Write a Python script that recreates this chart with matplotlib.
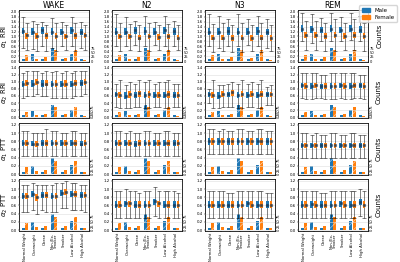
import matplotlib
matplotlib.use('Agg')
import matplotlib.pyplot as plt
from matplotlib.patches import Patch
import numpy as np

categories = ['Normal Weight', 'Overweight', 'Obese', 'Non-/Ex-\nSmoker',
              'Smoker', 'Low Alcohol', 'High Alcohol']
stages = ['WAKE', 'N2', 'N3', 'REM']
row_labels = [r'$\alpha_1$ RRI', r'$\alpha_2$ RRI', r'$\alpha_1$ PTT', r'$\alpha_2$ PTT']

# counts per category (male / female) and which bar is hatched
counts_m = [12, 40, 12, 80, 12, 45, 12]
counts_f = [35, 15, 22, 65, 18, 68, 8]
hatch_m = [False, True, False, True, False, True, False]
hatch_f = [True, False, False, True, False, True, False]

# (low whisker, q1, median, q3, high whisker) per category
# row 1: alpha1 RRI
rri1_wake_m = [(0.55, 1.10, 1.22, 1.35, 1.80), (0.50, 1.05, 1.20, 1.35, 1.65), (0.60, 1.10, 1.25, 1.40, 1.60),
               (0.55, 1.05, 1.20, 1.35, 1.75), (0.60, 1.05, 1.18, 1.30, 1.60), (0.60, 1.10, 1.25, 1.40, 1.80),
               (0.55, 1.05, 1.20, 1.30, 1.60)]
rri1_wake_f = [(0.45, 0.90, 1.05, 1.15, 1.55), (0.40, 0.90, 1.02, 1.15, 1.50), (0.40, 0.90, 1.05, 1.15, 1.45),
               (0.40, 0.90, 1.02, 1.15, 1.55), (0.45, 0.88, 1.00, 1.12, 1.45), (0.40, 0.90, 1.05, 1.15, 1.55),
               (0.45, 0.92, 1.05, 1.15, 1.45)]
rri1_n2_m = [(0.60, 1.08, 1.20, 1.35, 1.90), (0.60, 1.05, 1.20, 1.35, 1.80), (0.65, 1.10, 1.25, 1.40, 1.65),
             (0.60, 1.08, 1.22, 1.38, 1.85), (0.65, 1.05, 1.20, 1.35, 1.60), (0.60, 1.10, 1.25, 1.40, 1.85),
             (0.60, 1.05, 1.22, 1.35, 1.65)]
rri1_n2_f = [(0.40, 0.88, 1.00, 1.12, 1.55), (0.45, 0.88, 1.00, 1.12, 1.50), (0.40, 0.85, 0.95, 1.08, 1.45),
             (0.40, 0.88, 1.00, 1.12, 1.55), (0.45, 0.85, 0.98, 1.10, 1.45), (0.40, 0.88, 1.00, 1.12, 1.50),
             (0.45, 0.85, 0.95, 1.08, 1.45)]
rri1_n3_m = [(0.60, 1.05, 1.20, 1.35, 1.90), (0.55, 1.05, 1.18, 1.35, 1.85), (0.60, 1.08, 1.22, 1.38, 1.70),
             (0.60, 1.05, 1.20, 1.35, 1.90), (0.65, 1.05, 1.20, 1.35, 1.70), (0.60, 1.05, 1.22, 1.38, 1.85),
             (0.55, 1.05, 1.18, 1.32, 1.70)]
rri1_n3_f = [(0.35, 0.85, 0.95, 1.08, 1.50), (0.40, 0.85, 0.95, 1.08, 1.55), (0.35, 0.82, 0.92, 1.05, 1.45),
             (0.35, 0.85, 0.95, 1.08, 1.55), (0.40, 0.82, 0.95, 1.05, 1.45), (0.35, 0.85, 0.95, 1.08, 1.55),
             (0.40, 0.82, 0.92, 1.05, 1.45)]
rri1_rem_m = [(0.80, 1.20, 1.32, 1.45, 1.95), (0.75, 1.15, 1.30, 1.42, 1.90), (0.80, 1.15, 1.28, 1.40, 1.75),
              (0.80, 1.18, 1.32, 1.45, 1.95), (0.80, 1.15, 1.28, 1.40, 1.80), (0.85, 1.20, 1.32, 1.45, 1.95),
              (0.80, 1.15, 1.28, 1.42, 1.85)]
rri1_rem_f = [(0.45, 0.92, 1.05, 1.18, 1.65), (0.45, 0.92, 1.05, 1.20, 1.65), (0.40, 0.90, 1.02, 1.15, 1.55),
              (0.40, 0.92, 1.05, 1.18, 1.70), (0.45, 0.90, 1.02, 1.15, 1.55), (0.45, 0.95, 1.08, 1.20, 1.70),
              (0.40, 0.90, 1.02, 1.15, 1.55)]
# row 2: alpha2 RRI
rri2_wake_m = [(0.55, 0.85, 0.95, 1.02, 1.25), (0.60, 0.85, 0.95, 1.05, 1.30), (0.60, 0.85, 0.95, 1.05, 1.25),
               (0.55, 0.85, 0.95, 1.03, 1.28), (0.55, 0.85, 0.93, 1.02, 1.25), (0.55, 0.85, 0.93, 1.02, 1.25),
               (0.60, 0.88, 0.97, 1.05, 1.30)]
rri2_wake_f = [(0.60, 0.88, 0.97, 1.05, 1.30), (0.65, 0.90, 1.00, 1.08, 1.30), (0.60, 0.88, 0.95, 1.05, 1.30),
               (0.55, 0.85, 0.95, 1.05, 1.30), (0.55, 0.85, 0.95, 1.05, 1.30), (0.60, 0.88, 0.97, 1.05, 1.30),
               (0.65, 0.90, 1.00, 1.08, 1.30)]
rri2_n2_m = [(0.30, 0.58, 0.65, 0.72, 0.95), (0.25, 0.52, 0.60, 0.70, 0.90), (0.30, 0.55, 0.62, 0.70, 0.95),
             (0.25, 0.55, 0.63, 0.72, 1.00), (0.30, 0.55, 0.63, 0.72, 0.95), (0.25, 0.55, 0.63, 0.72, 1.00),
             (0.30, 0.55, 0.63, 0.72, 0.95)]
rri2_n2_f = [(0.25, 0.55, 0.63, 0.72, 1.05), (0.25, 0.55, 0.65, 0.75, 1.00), (0.30, 0.58, 0.68, 0.75, 1.05),
             (0.25, 0.55, 0.65, 0.75, 1.05), (0.30, 0.55, 0.63, 0.72, 1.00), (0.25, 0.55, 0.65, 0.75, 1.05),
             (0.30, 0.55, 0.63, 0.72, 0.95)]
rri2_n3_m = [(0.40, 0.58, 0.65, 0.72, 0.80), (0.25, 0.52, 0.60, 0.70, 0.90), (0.30, 0.58, 0.65, 0.72, 0.95),
             (0.25, 0.55, 0.63, 0.72, 0.95), (0.30, 0.55, 0.63, 0.72, 0.95), (0.25, 0.55, 0.63, 0.72, 0.95),
             (0.35, 0.58, 0.65, 0.72, 0.85)]
rri2_n3_f = [(0.25, 0.55, 0.63, 0.72, 1.05), (0.30, 0.58, 0.65, 0.75, 0.90), (0.30, 0.60, 0.70, 0.78, 1.00),
             (0.25, 0.58, 0.65, 0.75, 1.05), (0.30, 0.58, 0.65, 0.75, 1.00), (0.25, 0.58, 0.65, 0.75, 1.05),
             (0.35, 0.58, 0.65, 0.72, 0.90)]
rri2_rem_m = [(0.55, 0.82, 0.90, 0.98, 1.25), (0.50, 0.80, 0.88, 0.97, 1.25), (0.55, 0.80, 0.88, 0.95, 1.20),
              (0.50, 0.80, 0.88, 0.97, 1.25), (0.55, 0.82, 0.90, 0.98, 1.25), (0.50, 0.80, 0.88, 0.97, 1.25),
              (0.55, 0.82, 0.90, 0.98, 1.20)]
rri2_rem_f = [(0.50, 0.80, 0.88, 0.97, 1.25), (0.55, 0.82, 0.90, 0.98, 1.25), (0.50, 0.80, 0.88, 0.97, 1.20),
              (0.50, 0.80, 0.88, 0.97, 1.25), (0.50, 0.80, 0.88, 0.97, 1.25), (0.55, 0.82, 0.90, 0.98, 1.25),
              (0.50, 0.80, 0.88, 0.97, 1.20)]
# row 3: alpha1 PTT
ptt1_wake_m = [(0.45, 0.68, 0.75, 0.82, 1.05), (0.45, 0.68, 0.74, 0.80, 1.00), (0.45, 0.68, 0.75, 0.82, 1.00),
               (0.45, 0.68, 0.75, 0.82, 1.05), (0.45, 0.68, 0.75, 0.82, 1.00), (0.45, 0.68, 0.75, 0.82, 1.05),
               (0.45, 0.68, 0.74, 0.80, 1.00)]
ptt1_wake_f = [(0.45, 0.68, 0.75, 0.82, 1.05), (0.45, 0.66, 0.73, 0.80, 1.00), (0.45, 0.68, 0.75, 0.82, 1.10),
               (0.45, 0.68, 0.75, 0.82, 1.05), (0.45, 0.68, 0.75, 0.82, 1.00), (0.45, 0.68, 0.75, 0.82, 1.05),
               (0.45, 0.68, 0.75, 0.82, 1.00)]
ptt1_n2_m = [(0.45, 0.68, 0.75, 0.82, 1.05), (0.45, 0.68, 0.75, 0.82, 1.00), (0.45, 0.66, 0.73, 0.80, 1.00),
             (0.45, 0.68, 0.75, 0.82, 1.05), (0.45, 0.68, 0.75, 0.82, 1.00), (0.45, 0.68, 0.75, 0.82, 1.05),
             (0.45, 0.68, 0.75, 0.82, 1.00)]
ptt1_n2_f = [(0.45, 0.68, 0.75, 0.82, 1.05), (0.45, 0.68, 0.75, 0.82, 1.05), (0.45, 0.68, 0.75, 0.82, 1.00),
             (0.45, 0.68, 0.75, 0.82, 1.05), (0.45, 0.68, 0.75, 0.82, 1.00), (0.45, 0.68, 0.75, 0.82, 1.05),
             (0.45, 0.68, 0.75, 0.82, 1.00)]
ptt1_n3_m = [(0.50, 0.72, 0.80, 0.88, 1.10), (0.50, 0.72, 0.80, 0.88, 1.05), (0.50, 0.72, 0.80, 0.88, 1.05),
             (0.50, 0.72, 0.80, 0.88, 1.10), (0.50, 0.72, 0.80, 0.88, 1.05), (0.50, 0.72, 0.80, 0.88, 1.10),
             (0.50, 0.72, 0.80, 0.88, 1.05)]
ptt1_n3_f = [(0.50, 0.72, 0.80, 0.88, 1.10), (0.50, 0.72, 0.80, 0.88, 1.10), (0.50, 0.72, 0.80, 0.88, 1.05),
             (0.50, 0.72, 0.80, 0.88, 1.10), (0.50, 0.72, 0.80, 0.88, 1.05), (0.50, 0.72, 0.80, 0.88, 1.10),
             (0.50, 0.72, 0.80, 0.88, 1.05)]
ptt1_rem_m = [(0.40, 0.63, 0.70, 0.77, 1.00), (0.40, 0.63, 0.70, 0.77, 0.95), (0.40, 0.63, 0.70, 0.77, 0.95),
              (0.40, 0.63, 0.70, 0.77, 1.00), (0.40, 0.63, 0.70, 0.77, 0.95), (0.40, 0.63, 0.70, 0.77, 1.00),
              (0.40, 0.63, 0.70, 0.77, 0.95)]
ptt1_rem_f = [(0.40, 0.63, 0.70, 0.77, 1.00), (0.40, 0.63, 0.70, 0.77, 1.00), (0.40, 0.63, 0.70, 0.77, 0.95),
              (0.40, 0.63, 0.70, 0.77, 1.00), (0.40, 0.63, 0.70, 0.77, 0.95), (0.40, 0.63, 0.70, 0.77, 1.00),
              (0.40, 0.63, 0.70, 0.77, 0.95)]
# row 4: alpha2 PTT
ptt2_wake_m = [(0.45, 0.75, 0.82, 0.90, 1.10), (0.50, 0.80, 0.88, 0.95, 1.15), (0.50, 0.78, 0.86, 0.93, 1.10),
               (0.45, 0.75, 0.83, 0.90, 1.10), (0.55, 0.82, 0.90, 0.98, 1.15), (0.50, 0.80, 0.88, 0.95, 1.15),
               (0.50, 0.78, 0.85, 0.92, 1.10)]
ptt2_wake_f = [(0.45, 0.75, 0.82, 0.90, 1.10), (0.40, 0.72, 0.80, 0.88, 1.10), (0.45, 0.78, 0.86, 0.93, 1.10),
               (0.45, 0.75, 0.82, 0.90, 1.15), (0.55, 0.85, 0.92, 1.00, 1.20), (0.50, 0.80, 0.88, 0.95, 1.15),
               (0.45, 0.78, 0.85, 0.92, 1.10)]
ptt2_n2_m = [(0.30, 0.55, 0.62, 0.70, 0.95), (0.30, 0.57, 0.65, 0.72, 1.00), (0.30, 0.55, 0.62, 0.70, 0.95),
             (0.30, 0.55, 0.62, 0.70, 0.95), (0.35, 0.62, 0.70, 0.77, 1.05), (0.30, 0.55, 0.62, 0.70, 0.95),
             (0.30, 0.55, 0.62, 0.70, 0.95)]
ptt2_n2_f = [(0.30, 0.55, 0.62, 0.70, 0.95), (0.30, 0.57, 0.65, 0.72, 0.95), (0.30, 0.55, 0.62, 0.70, 0.90),
             (0.30, 0.55, 0.62, 0.70, 0.95), (0.30, 0.57, 0.65, 0.72, 0.95), (0.30, 0.55, 0.62, 0.70, 0.95),
             (0.30, 0.55, 0.62, 0.70, 0.90)]
ptt2_n3_m = [(0.30, 0.55, 0.62, 0.70, 0.95), (0.30, 0.55, 0.62, 0.70, 0.95), (0.30, 0.55, 0.62, 0.70, 0.90),
             (0.30, 0.55, 0.62, 0.70, 0.95), (0.30, 0.57, 0.65, 0.72, 0.95), (0.30, 0.55, 0.62, 0.70, 0.95),
             (0.30, 0.55, 0.62, 0.70, 0.90)]
ptt2_n3_f = [(0.30, 0.55, 0.62, 0.70, 0.95), (0.30, 0.55, 0.62, 0.70, 0.95), (0.30, 0.55, 0.62, 0.70, 0.90),
             (0.30, 0.55, 0.62, 0.70, 0.95), (0.30, 0.55, 0.62, 0.70, 0.95), (0.30, 0.55, 0.62, 0.70, 0.95),
             (0.30, 0.55, 0.62, 0.70, 0.90)]
ptt2_rem_m = [(0.30, 0.55, 0.62, 0.70, 0.95), (0.30, 0.55, 0.63, 0.72, 0.95), (0.30, 0.55, 0.62, 0.70, 0.90),
              (0.30, 0.55, 0.62, 0.70, 0.95), (0.30, 0.57, 0.65, 0.72, 0.95), (0.30, 0.55, 0.62, 0.70, 0.95),
              (0.35, 0.60, 0.68, 0.75, 1.00)]
ptt2_rem_f = [(0.30, 0.55, 0.62, 0.70, 0.95), (0.30, 0.55, 0.62, 0.70, 0.95), (0.30, 0.55, 0.62, 0.70, 0.90),
              (0.30, 0.55, 0.62, 0.70, 0.95), (0.30, 0.55, 0.62, 0.70, 0.95), (0.30, 0.55, 0.62, 0.70, 0.95),
              (0.30, 0.55, 0.62, 0.70, 0.95)]

panels = [
    [(rri1_wake_m, rri1_wake_f), (rri1_n2_m, rri1_n2_f), (rri1_n3_m, rri1_n3_f), (rri1_rem_m, rri1_rem_f)],
    [(rri2_wake_m, rri2_wake_f), (rri2_n2_m, rri2_n2_f), (rri2_n3_m, rri2_n3_f), (rri2_rem_m, rri2_rem_f)],
    [(ptt1_wake_m, ptt1_wake_f), (ptt1_n2_m, ptt1_n2_f), (ptt1_n3_m, ptt1_n3_f), (ptt1_rem_m, ptt1_rem_f)],
    [(ptt2_wake_m, ptt2_wake_f), (ptt2_n2_m, ptt2_n2_f), (ptt2_n3_m, ptt2_n3_f), (ptt2_rem_m, ptt2_rem_f)],
]
ytops = [2.0, 1.4, 1.2, 1.2]
count_tops = [300, 330, 250, 250]

blue = '#1f77b4'
orange = '#ff7f0e'
plt.rcParams['hatch.linewidth'] = 0.5

fig = plt.figure(figsize=(4, 2.62), dpi=100)
lefts = [19, 112, 205, 298]
bottoms = [200, 144, 87, 31]
W, H = 70, 52

x = np.arange(len(categories))
for r in range(4):
    for c in range(4):
        ax = fig.add_axes([lefts[c] / 400, bottoms[r] / 262, W / 400, H / 262])
        ax2 = ax.twinx()
        ax.set_zorder(ax2.get_zorder() + 1)
        ax.patch.set_visible(False)
        top = ytops[r]
        ax.set_ylim(-0.02 * top, top * 1.04)
        ax2.set_ylim(-0.02 * count_tops[r], count_tops[r] * 1.04)
        ax.set_yticks(np.arange(0, top + 0.01, 0.2))
        ax.yaxis.set_major_formatter(plt.FormatStrFormatter('%.1f'))
        ax.grid(axis='y', color='#dddddd', linewidth=0.4)
        ax.set_axisbelow(True)

        # counts bars on twin axis
        for i in range(len(categories)):
            ax2.bar(x[i] - 0.17, counts_m[i], width=0.3, color=blue,
                    hatch='////' if hatch_m[i] else None, edgecolor='#9ec5e8' if hatch_m[i] else blue,
                    linewidth=0)
            ax2.bar(x[i] + 0.17, counts_f[i], width=0.3, color=orange,
                    hatch='////' if hatch_f[i] else None, edgecolor='#ffd0a8' if hatch_f[i] else orange,
                    linewidth=0)
        ax2.set_yticks([0, 25, 50, 75])
        rot = 0 if r == 0 else 90
        ax2.tick_params(axis='y', labelsize=2.6, length=1, width=0.3, pad=0.5, labelrotation=rot)
        if c == 3:
            ax2.set_ylabel('Counts', fontsize=5, labelpad=1)

        male, female = panels[r][c]
        for data, off, col in [(male, -0.2, blue), (female, 0.2, orange)]:
            d = np.array(data)
            lo, q1, med, q3, hi = d.T
            ax.errorbar(x + off, med, yerr=[med - lo, hi - med], fmt='none', ecolor='k',
                        elinewidth=0.5, capsize=1.2, capthick=0.5, alpha=0.7, zorder=2)
            ax.bar(x + off, q3 - q1, bottom=q1, width=0.28, color=col, zorder=3)
            ax.plot(x + off, med, 's', color='#1a3550', ms=1.3, alpha=0.6, zorder=4)

        ax.set_xlim(-0.6, len(categories) - 0.4)
        ax.set_xticks(x)
        if r == 3:
            ax.set_xticklabels(categories, rotation=90, fontsize=2.7, linespacing=0.9)
        else:
            ax.set_xticklabels([])
        ax.tick_params(axis='x', length=1, width=0.3, pad=0.5)
        ax.tick_params(axis='y', labelsize=2.8, length=1, width=0.3, pad=0.5)
        for a in (ax, ax2):
            for s in a.spines.values():
                s.set_linewidth(0.4)
        if r == 0:
            ax.set_title(stages[c], fontsize=5.5, pad=1)
        if c == 0:
            ax.set_ylabel(row_labels[r], fontsize=5, labelpad=0.5)

handles = [Patch(color=blue, label='Male'), Patch(color=orange, label='Female')]
fig.legend(handles=handles, loc='upper right', bbox_to_anchor=(1.0, 0.99), fontsize=4,
           frameon=True, handlelength=1.6, handleheight=0.7, borderpad=0.4, labelspacing=0.4)

fig.savefig('out.png', dpi=100)
